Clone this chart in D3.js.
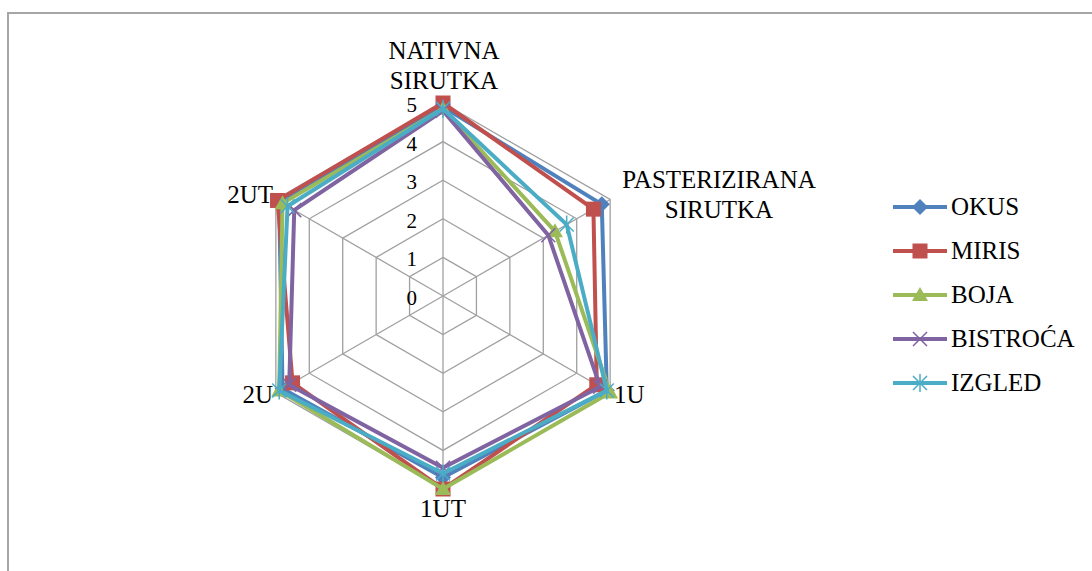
<!DOCTYPE html>
<html>
<head>
<meta charset="utf-8">
<script src="https://cdn.jsdelivr.net/npm/d3@7"></script>
<style>
html,body{margin:0;padding:0;background:#fff;}
svg{display:block;}
</style>
</head>
<body>
<svg id="chart" width="1092" height="571"></svg>
<script>
const categories = [["NATIVNA","SIRUTKA"],["PASTERIZIRANA","SIRUTKA"],["1U"],["1UT"],["2U"],["2UT"]];
const seriesNames = ["OKUS","MIRIS","BOJA","BISTROĆA","IZGLED"];
const okus     = [4.9, 4.75, 4.9, 4.7, 4.8, 4.9];
const miris    = [5.0, 4.5, 4.6, 5.0, 4.5, 4.95];
const boja     = [4.85, 3.35, 5.0, 5.0, 4.9, 4.8];
const bistroca = [4.8, 3.15, 4.7, 4.45, 4.6, 4.45];
const izgled   = [4.85, 3.7, 4.9, 4.6, 4.9, 4.65];
const tickValues = [0,1,2,3,4,5];
const colors = ["#4F81BD","#C0504D","#9BBB59","#8064A2","#4BACC6"];
const markers = ["diamond","square","triangle","x","star"];
const seriesValues = [okus, miris, boja, bistroca, izgled];
const FONT = "'Liberation Serif', 'Times New Roman', Times, 'DejaVu Serif', serif";

const svg = d3.select("#chart");
const cx = 443, cy = 296;
const r = d3.scaleLinear().domain([0,5]).range([0,193]);
const n = categories.length;
const ang = d3.scaleLinear().domain([0,n]).range([0, 2*Math.PI]);
const pt = (i,v) => [cx + r(v)*Math.sin(ang(i)), cy - r(v)*Math.cos(ang(i))];

// frame
svg.append("path").attr("d","M8,571 L8,13 L1092,13").attr("fill","none").attr("stroke","#a6a6a6").attr("stroke-width",2);

// grid
const gridG = svg.append("g");
tickValues.filter(t=>t>0).forEach(t=>{
  const pts = d3.range(n).map(i=>pt(i,t));
  gridG.append("path").attr("d", d3.line()(pts)+"Z").attr("fill","none").attr("stroke","#a0a0a0").attr("stroke-width",1.3);
});
d3.range(n).forEach(i=>{
  const p = pt(i,5);
  gridG.append("line").attr("x1",cx).attr("y1",cy).attr("x2",p[0]).attr("y2",p[1]).attr("stroke","#a0a0a0").attr("stroke-width",1.3);
});

// tick labels
svg.append("g").selectAll("text").data(tickValues).join("text")
  .attr("x",417).attr("y",d=>cy - r(d) + 9)
  .attr("text-anchor","end").attr("font-family",FONT).attr("font-size",21).text(d=>d);

// category labels
const labelPos = [
  {x:444, y:59, anchor:"middle"},
  {x:719, y:188, anchor:"middle"},
  {x:614, y:403, anchor:"start"},
  {x:443, y:517, anchor:"middle"},
  {x:273, y:403, anchor:"end"},
  {x:273, y:203, anchor:"end"}
];
categories.forEach((c,i)=>{
  const lp = labelPos[i];
  const t = svg.append("text").attr("x",lp.x).attr("y",lp.y).attr("text-anchor",lp.anchor)
    .attr("font-family",FONT).attr("font-size",25);
  c.forEach((s,j)=>t.append("tspan").attr("x",lp.x).attr("dy", j===0?0:30).text(s));
});

function drawMarker(g, type, x, y, color){
  if(type==="diamond"){
    g.append("path").attr("d",`M${x},${y-8}L${x+8},${y}L${x},${y+8}L${x-8},${y}Z`).attr("fill",color);
  } else if(type==="square"){
    g.append("rect").attr("x",x-7.5).attr("y",y-7.5).attr("width",15).attr("height",15).attr("fill",color);
  } else if(type==="triangle"){
    g.append("path").attr("d",`M${x},${y-8}L${x+8},${y+6}L${x-8},${y+6}Z`).attr("fill",color);
  } else if(type==="x"){
    g.append("path").attr("d",`M${x-7},${y-7}L${x+7},${y+7}M${x-7},${y+7}L${x+7},${y-7}`).attr("stroke",color).attr("stroke-width",1.5);
  } else if(type==="star"){
    g.append("path").attr("d",`M${x-7},${y-7}L${x+7},${y+7}M${x-7},${y+7}L${x+7},${y-7}M${x},${y-9}L${x},${y+9}`).attr("stroke",color).attr("stroke-width",1.5);
  }
}

// series
seriesValues.forEach((vals,si)=>{
  const g = svg.append("g");
  const pts = vals.map((v,i)=>pt(i,v));
  g.append("path").attr("d", d3.line()(pts)+"Z").attr("fill","none")
    .attr("stroke",colors[si]).attr("stroke-width",4).attr("stroke-linejoin","miter");
  pts.forEach(p=>drawMarker(g, markers[si], p[0], p[1], colors[si]));
});

// legend
const leg = svg.append("g");
const legY = d3.scalePoint().domain(seriesNames).range([207,383]);
seriesNames.forEach((s,si)=>{
  const y = legY(s);
  leg.append("line").attr("x1",893).attr("x2",947).attr("y1",y).attr("y2",y).attr("stroke",colors[si]).attr("stroke-width",4);
  drawMarker(leg, markers[si], 920, y, colors[si]);
  leg.append("text").attr("x",951).attr("y",y+8).attr("font-family",FONT).attr("font-size",25).text(s);
});
</script>
</body>
</html>
